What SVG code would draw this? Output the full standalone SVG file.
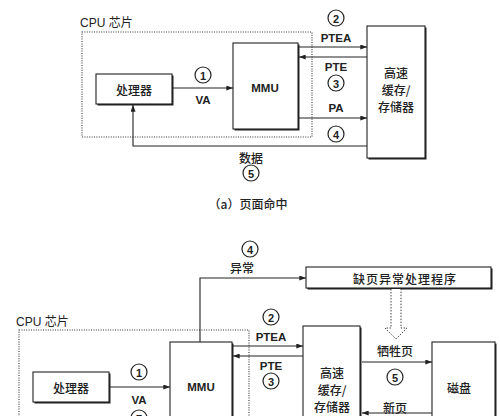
<svg xmlns="http://www.w3.org/2000/svg" width="500" height="416" viewBox="0 0 500 416">
<defs>
<marker id="ah" viewBox="0 0 8 6" refX="8" refY="3" markerWidth="7" markerHeight="5" markerUnits="userSpaceOnUse" orient="auto">
<path d="M0,0 L8,3 L0,6 z" fill="#222"/>
</marker>
</defs>
<style>
.bx{fill:#fff;stroke:#222;stroke-width:1.1}
.sd{fill:#222}
.dot{fill:none;stroke:#333;stroke-width:1.1;stroke-dasharray:1 1.4}
.ar{fill:none;stroke:#222;stroke-width:1.1;marker-end:url(#ah)}
.hol{fill:#fff;stroke:#444;stroke-width:1;stroke-dasharray:1.5 1.5}
.cn{font-family:"Noto Sans CJK SC",sans-serif;font-size:12px;font-weight:500;fill:#222;text-anchor:middle;dominant-baseline:central}
.en{font-family:"Liberation Sans",Arial,sans-serif;font-weight:bold;font-size:11.5px;fill:#222;text-anchor:middle;dominant-baseline:central}
.lb{font-family:"Liberation Sans","Noto Sans CJK SC",sans-serif;font-size:12px;fill:#222;dominant-baseline:central}
.cir{fill:#fff;stroke:#222;stroke-width:1.2}
.num{font-family:"Liberation Sans",Arial,sans-serif;font-size:11px;font-weight:bold;fill:#222;text-anchor:middle;dominant-baseline:central}
</style>
<rect width="500" height="416" fill="#fff"/>

<!-- ===== (a) top diagram ===== -->
<g id="cpu-a">
<rect class="dot" x="82" y="32" width="230" height="105"/>
<text class="lb" x="80" y="23">CPU 芯片</text>
</g>
<g id="proc-a">
<rect class="sd" x="97.5" y="75.5" width="76" height="30"/>
<rect class="bx" x="96" y="74" width="76" height="30"/>
<text class="cn" x="134" y="89">处理器</text>
</g>
<g id="mmu-a">
<rect class="sd" x="234.5" y="44.5" width="65" height="86"/>
<rect class="bx" x="233" y="43" width="65" height="86"/>
<text class="en" x="265" y="88" font-size="12.5">MMU</text>
</g>
<g id="cache-a">
<rect class="sd" x="368.5" y="27.5" width="58" height="132"/>
<rect class="bx" x="367" y="26" width="58" height="132"/>
<text class="cn" x="396" y="72">高速</text>
<text class="cn" x="396" y="89">缓存/</text>
<text class="cn" x="396" y="106">存储器</text>
</g>
<g id="connectors-a">
<line class="ar" x1="172" y1="88" x2="233" y2="88"/>
<line class="ar" x1="299" y1="47" x2="367" y2="47"/>
<line class="ar" x1="367" y1="57" x2="299" y2="57"/>
<line class="ar" x1="299" y1="118" x2="367" y2="118"/>
<path class="ar" d="M367,146 H133 V105"/>
</g>
<g id="labels-a">
<circle class="cir" cx="203" cy="75" r="8"/><text class="num" x="203" y="75.5">1</text>
<text class="en" x="203" y="100">VA</text>
<circle class="cir" cx="336" cy="18" r="8"/><text class="num" x="336" y="18.5">2</text>
<text class="en" x="336" y="38">PTEA</text>
<text class="en" x="336" y="67">PTE</text>
<circle class="cir" cx="336" cy="83" r="8"/><text class="num" x="336" y="83.5">3</text>
<text class="en" x="336" y="108">PA</text>
<circle class="cir" cx="336" cy="134" r="8"/><text class="num" x="336" y="134.5">4</text>
<text class="cn" x="251" y="157">数据</text>
<circle class="cir" cx="251" cy="173" r="8"/><text class="num" x="251" y="173.5">5</text>
<text class="cn" x="248" y="203" font-size="12.5">（a）页面命中</text>
</g>

<!-- ===== bottom diagram ===== -->
<g id="cpu-b">
<rect class="dot" x="19" y="330" width="230" height="105"/>
<text class="lb" x="16" y="322">CPU 芯片</text>
</g>
<g id="handler">
<rect class="sd" x="307.5" y="268.5" width="185" height="21"/>
<rect class="bx" x="306" y="267" width="185" height="21"/>
<text class="cn" x="405" y="278" letter-spacing="1">缺页异常处理程序</text>
</g>
<g id="proc-b">
<rect class="sd" x="34.5" y="373.5" width="76" height="30"/>
<rect class="bx" x="33" y="372" width="76" height="30"/>
<text class="cn" x="71" y="387">处理器</text>
</g>
<g id="mmu-b">
<rect class="sd" x="171.5" y="343.5" width="62" height="100"/>
<rect class="bx" x="170" y="342" width="62" height="100"/>
<text class="en" x="201" y="387" font-size="12.5">MMU</text>
</g>
<g id="cache-b">
<rect class="sd" x="304.5" y="327.5" width="57" height="100"/>
<rect class="bx" x="303" y="326" width="57" height="100"/>
<text class="cn" x="332" y="372">高速</text>
<text class="cn" x="332" y="389">缓存/</text>
<text class="cn" x="332" y="406">存储器</text>
</g>
<g id="disk">
<rect class="sd" x="433.5" y="343.5" width="63" height="100"/>
<rect class="bx" x="432" y="342" width="63" height="100"/>
<text class="cn" x="459" y="387">磁盘</text>
</g>
<g id="connectors-b">
<path class="ar" d="M200,342 V278 H306"/>
<path class="hol" d="M391,289 V328 H385 L396,339 L407,328 H401 V289"/>
<line class="ar" x1="109" y1="387" x2="170" y2="387"/>
<line class="ar" x1="233" y1="346" x2="303" y2="346"/>
<line class="ar" x1="303" y1="356" x2="233" y2="356"/>
<line class="ar" x1="362" y1="362" x2="432" y2="362"/>
<line class="ar" x1="432" y1="413" x2="362" y2="413"/>
</g>
<g id="labels-b">
<circle class="cir" cx="250" cy="249" r="8"/><text class="num" x="250" y="249.5">4</text>
<text class="cn" x="242" y="267">异常</text>
<circle class="cir" cx="139" cy="372" r="8"/><text class="num" x="139" y="372.5">1</text>
<text class="en" x="139" y="400">VA</text>
<circle class="cir" cx="139" cy="418" r="8"/><text class="num" x="139" y="418.5">7</text>
<circle class="cir" cx="271" cy="317" r="8"/><text class="num" x="271" y="317.5">2</text>
<text class="en" x="271" y="337">PTEA</text>
<text class="en" x="271" y="366">PTE</text>
<circle class="cir" cx="271" cy="381" r="8"/><text class="num" x="271" y="381.5">3</text>
<text class="cn" x="395" y="350">牺牲页</text>
<circle class="cir" cx="395" cy="377" r="8"/><text class="num" x="395" y="377.5">5</text>
<text class="cn" x="395" y="407">新页</text>
</g>
</svg>
